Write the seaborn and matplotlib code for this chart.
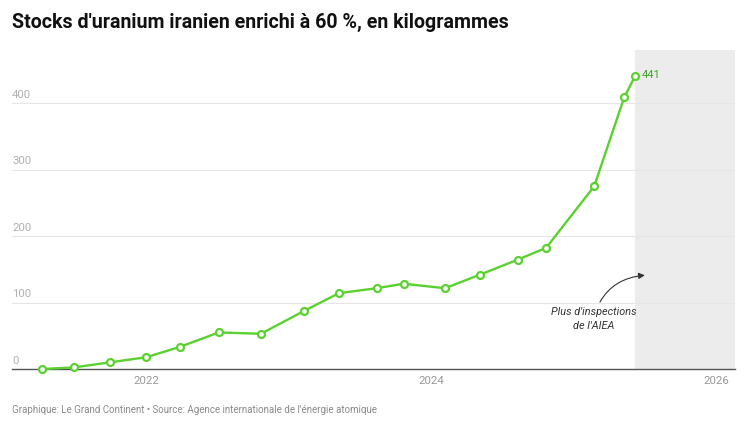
import matplotlib
matplotlib.use("Agg")
import matplotlib.pyplot as plt
import seaborn as sns
import pandas as pd

dates = ["2021-04-10", "2021-06-30", "2021-09-30", "2022-01-01", "2022-03-28",
         "2022-07-06", "2022-10-22", "2023-02-10", "2023-05-10", "2023-08-15",
         "2023-10-23", "2024-02-06", "2024-05-06", "2024-08-11", "2024-10-22",
         "2025-02-22", "2025-05-10", "2025-06-07"]
stocks_kg = [0, 2.4, 10, 17.7, 33.2, 55, 53, 87.5, 114.1, 121.6,
             128.3, 121.5, 142.1, 164.7, 182.3, 274.8, 408.6, 440.9]
y_ticks = [0, 100, 200, 300, 400]
x_tick_years = ["2022-01-01", "2024-01-01", "2026-01-01"]
x_tick_labels = ["2022", "2024", "2026"]
shade_start, shade_end = "2025-06-07", "2026-02-18"

df = pd.DataFrame({"date": pd.to_datetime(dates), "kg": stocks_kg})

sns.set_theme(style="white")
plt.rcParams['font.family'] = ['Roboto', 'DejaVu Sans']

fig = plt.figure(figsize=(7.5, 4.25), dpi=100)
ax = fig.add_axes([12/750, 1-369/425, (735-12)/750, (369-50)/425])

line_col = "#5bd12f"
ax.axvspan(pd.Timestamp(shade_start), pd.Timestamp(shade_end), color="#ececec", zorder=0, lw=0)
sns.lineplot(data=df, x="date", y="kg", ax=ax, color=line_col, lw=1.7,
             marker="o", markersize=5, markerfacecolor="white",
             markeredgecolor=line_col, markeredgewidth=1.6, zorder=3, clip_on=False)

ax.set_xlim(pd.Timestamp("2021-01-22"), pd.Timestamp(shade_end))
ax.set_ylim(0, 480)
ax.set_yticks(y_ticks)
ax.yaxis.grid(True, color="#e6e6e6", lw=0.8)
ax.set_axisbelow(True)
ax.set_yticklabels([])
ax.tick_params(axis="y", length=0)
for v in y_ticks:
    ax.text(0.0, v + 5, str(v), transform=ax.get_yaxis_transform(), ha="left", va="bottom",
            fontsize=8.2, color="#b0b0b0")

ax.set_xticks(pd.to_datetime(x_tick_years))
ax.set_xticklabels(x_tick_labels, fontsize=8.2, color="#999999")
ax.tick_params(axis="x", length=0, pad=5)
for s in ["top", "right", "left"]:
    ax.spines[s].set_visible(False)
ax.spines["bottom"].set_color("#555555")
ax.spines["bottom"].set_linewidth(1)
ax.set_xlabel("")
ax.set_ylabel("")

last_date = df["date"].iloc[-1]
ax.annotate(f"{round(stocks_kg[-1])}", xy=(last_date, stocks_kg[-1]), xytext=(5, 1),
            textcoords="offset points", ha="left", va="center", fontsize=8, color="#3f9f2a")

ax.annotate("Plus d'inspections\nde l'AIEA", xy=(pd.Timestamp("2025-07-02"), 141),
            xytext=(pd.Timestamp("2025-02-20"), 94), ha="center", va="top",
            fontsize=7.8, style="italic", color="#333333", linespacing=1.5,
            arrowprops=dict(arrowstyle="-|>", color="#333333", lw=0.8,
                            connectionstyle="arc3,rad=-0.35", shrinkA=1, shrinkB=0,
                            mutation_scale=9))

fig.text(12/750, 1-22/425, "Stocks d'uranium iranien enrichi à 60 %, en kilogrammes",
         ha="left", va="center", fontsize=14.1, fontweight="bold", color="#111111")
fig.text(12/750, 1-410/425,
         "Graphique: Le Grand Continent • Source: Agence internationale de l'énergie atomique",
         ha="left", va="center", fontsize=7.0, color="#8a8a8a")

fig.savefig("out.png", dpi=100)
